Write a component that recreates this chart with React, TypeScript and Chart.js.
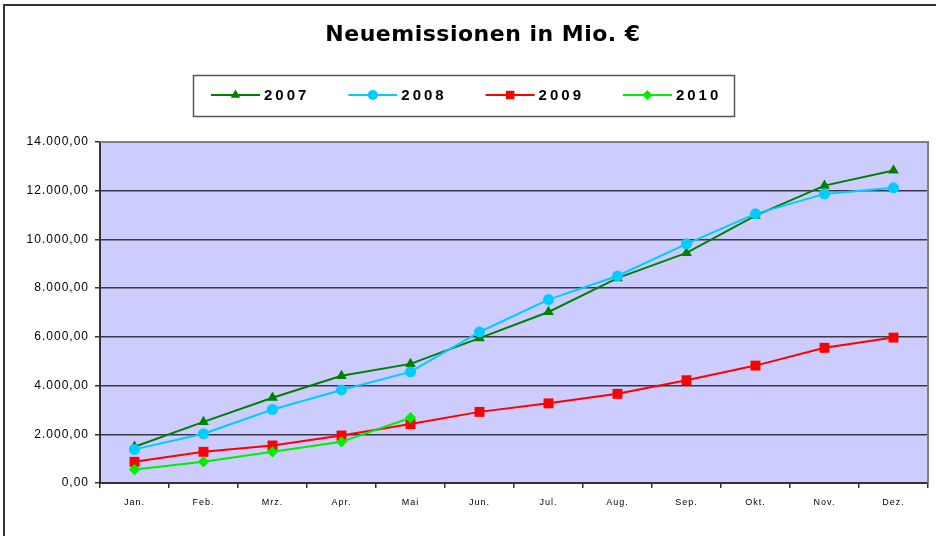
import { useEffect, useRef } from 'react';
import { Chart, registerables } from 'chart.js';
import { drawPoint } from 'chart.js/helpers';

Chart.register(...registerables);

const months = ['Jan.', 'Feb.', 'Mrz.', 'Apr.', 'Mai', 'Jun.', 'Jul.', 'Aug.', 'Sep.', 'Okt.', 'Nov.', 'Dez.'];
const seriesNames = ['2007', '2008', '2009', '2010'];
const values2007 = [1490, 2510, 3500, 4400, 4890, 5950, 7020, 8410, 9450, 10980, 12210, 12830];
const values2008 = [1380, 2020, 3020, 3820, 4560, 6200, 7530, 8500, 9820, 11050, 11870, 12120];
const values2009 = [870, 1280, 1540, 1950, 2420, 2920, 3270, 3660, 4220, 4820, 5550, 5970];
const values2010 = [550, 870, 1280, 1690, 2680];
const yMin = 0;
const yMax = 14000;
const yStep = 2000;
const titleText = 'Neuemissionen in Mio. €';

const colors = ['#008000', '#00CCFF', '#FF0000', '#00EE00'];
const pointStyles = ['triangle', 'circle', 'rect', 'rectRot'];
const pointRadii = [6.2, 5.5, 7, 5.6];
const legendRadii = [5.5, 5, 6, 5];

function fmt(v: number): string {
  const s = Math.round(v).toString().replace(/\B(?=(\d{3})+(?!\d))/g, '.');
  return s + ',00';
}

const decorPlugin = {
  id: 'decor',
  beforeInit(chart: any) {
    chart.ctx.letterSpacing = '1px';
  },
  beforeDraw(chart: any) {
    const ctx = chart.ctx;
    const { left, top, right, bottom } = chart.chartArea;
    ctx.save();
    ctx.fillStyle = '#ffffff';
    ctx.fillRect(0, 0, chart.width, chart.height);
    ctx.strokeStyle = '#333333';
    ctx.lineWidth = 2;
    ctx.beginPath();
    ctx.moveTo(4, chart.height + 2);
    ctx.lineTo(4, 5);
    ctx.lineTo(chart.width + 2, 5);
    ctx.stroke();
    ctx.fillStyle = '#CCCCFF';
    ctx.fillRect(left, top, right - left, bottom - top);
    ctx.restore();
    ctx.letterSpacing = '1px';
  },
  afterDraw(chart: any) {
    const ctx = chart.ctx;
    const { left, top, right, bottom } = chart.chartArea;
    ctx.save();
    // plot border top/right
    ctx.strokeStyle = '#808080';
    ctx.lineWidth = 2;
    ctx.beginPath();
    ctx.moveTo(left, top);
    ctx.lineTo(right, top);
    ctx.lineTo(right, bottom);
    ctx.stroke();

    // title
    ctx.letterSpacing = '0.5px';
    ctx.fillStyle = '#000000';
    ctx.font = 'bold 22px "DejaVu Sans"';
    ctx.textAlign = 'center';
    ctx.textBaseline = 'middle';
    ctx.fillText(titleText, 483, 35);

    // legend box
    ctx.letterSpacing = '0px';
    ctx.fillStyle = '#ffffff';
    ctx.fillRect(193.5, 75.5, 541, 41);
    ctx.strokeStyle = '#555555';
    ctx.lineWidth = 1.5;
    ctx.strokeRect(193.5, 75.5, 541, 41);

    const ly = 95;
    seriesNames.forEach((name, i) => {
      const x0 = 211 + i * 137.3;
      const x1 = x0 + 49;
      ctx.strokeStyle = colors[i];
      ctx.lineWidth = 2;
      ctx.beginPath();
      ctx.moveTo(x0, ly);
      ctx.lineTo(x1, ly);
      ctx.stroke();
      ctx.fillStyle = colors[i];
      drawPoint(ctx, { pointStyle: pointStyles[i], radius: legendRadii[i], rotation: 0, borderWidth: 0 } as any, (x0 + x1) / 2, ly);
      ctx.fillStyle = '#000000';
      ctx.font = 'bold 15px "Liberation Sans"';
      ctx.letterSpacing = '3px';
      ctx.textAlign = 'left';
      ctx.textBaseline = 'middle';
      ctx.fillText(name, x1 + 4, ly + 1);
      ctx.letterSpacing = '0px';
    });
    ctx.restore();
    ctx.letterSpacing = '1px';
  },
};

export default function App() {
  const canvasRef = useRef<HTMLCanvasElement | null>(null);

  useEffect(() => {
    document.body.style.margin = '0';
    const canvas = canvasRef.current;
    if (!canvas) return;
    const seriesValues = [values2007, values2008, values2009, values2010];
    const chart = new Chart(canvas, {
      type: 'line',
      data: {
        labels: months,
        datasets: seriesNames.map((name, i) => ({
          label: name,
          data: seriesValues[i],
          borderColor: colors[i],
          backgroundColor: colors[i],
          borderWidth: 2,
          pointStyle: pointStyles[i] as any,
          pointRadius: pointRadii[i],
          pointBorderWidth: 0,
          pointBackgroundColor: colors[i],
          pointBorderColor: colors[i],
          tension: 0,
          fill: false,
          order: 3 - i,
        })),
      },
      options: {
        animation: false,
        responsive: false,
        maintainAspectRatio: false,
        devicePixelRatio: 1,
        layout: { padding: { left: 0, top: 142, right: 8, bottom: 0 } },
        plugins: {
          legend: { display: false },
          title: { display: false },
          tooltip: { enabled: false },
        },
        scales: {
          x: {
            type: 'category',
            offset: true,
            grid: {
              offset: true,
              drawOnChartArea: false,
              tickLength: 5,
              color: '#333333',
              lineWidth: 1.5,
            },
            border: { color: '#333333', width: 2 },
            ticks: {
              autoSkip: false,
              maxRotation: 0,
              minRotation: 0,
              padding: 9,
              color: '#000000',
              font: { family: '"Liberation Sans"', size: 9 },
            },
            afterFit(scale: any) {
              scale.height = 53;
            },
          },
          y: {
            min: yMin,
            max: yMax,
            ticks: {
              stepSize: yStep,
              padding: 6,
              color: '#000000',
              font: { family: '"Liberation Sans"', size: 12 },
              callback: (v: any) => fmt(Number(v)),
            },
            grid: {
              color: '#383848',
              lineWidth: 1.5,
              tickLength: 5,
              tickColor: '#333333',
            },
            border: { color: '#333333', width: 2 },
            afterFit(scale: any) {
              scale.width = 100;
            },
          },
        },
      },
      plugins: [decorPlugin],
    });
    return () => chart.destroy();
  }, []);

  return (
    <div style={{ position: 'absolute', left: 0, top: 0, width: 936, height: 536 }}>
      <canvas ref={canvasRef} width={936} height={536} style={{ width: 936, height: 536, display: 'block' }} />
    </div>
  );
}
